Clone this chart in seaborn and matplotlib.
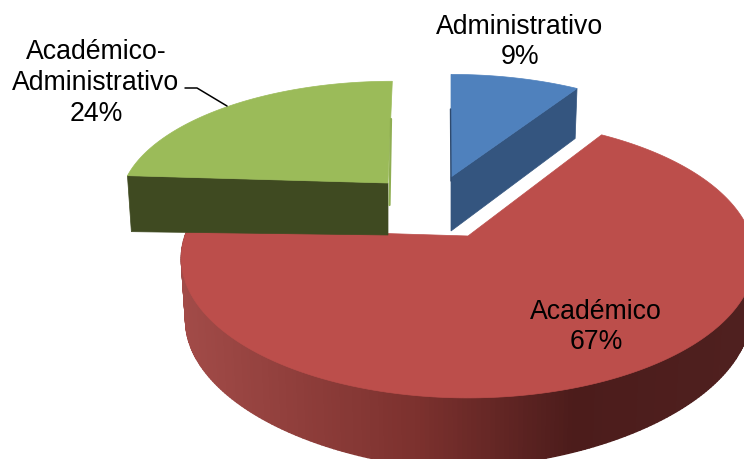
import numpy as np
import matplotlib
matplotlib.use('Agg')
import matplotlib.pyplot as plt
import seaborn as sns
from matplotlib.colors import LinearSegmentedColormap

# Data
labels = ['Administrativo', 'Académico', 'Académico-\nAdministrativo']
values = [9, 67, 24]
top_colors = ['#4F81BD', '#BC4E4B', '#9BBB59']
wall_colors = ['#34557F', '#4F201F', '#3F4A21']

# Where each exploded slice sits, in pixels: centre x, centre y, half width, half height, shear
slice_geom = [(451, 178, 267, 119, 0), (468, 237, 283, 136, 0), (388, 184, 264, 118, 5)]
# depth of the cut wall at the centre and at the rim
wall_depths = [(54, 50), None, (52, 56)]
label_pos = [(520, 42), (596, 327), (96, 83)]
persp = 0.16

sns.set_theme(style='white')
plt.rcParams['font.family'] = ['Liberation Sans', 'DejaVu Sans']
palette = sns.color_palette(top_colors)

fig = plt.figure(figsize=(7.44, 4.6), dpi=100)
ax = fig.add_axes([0, 0, 1, 1])

# let pie work out the slice angles from the values
wedges, _ = ax.pie(values, startangle=90, counterclock=False)
angles = [(w.theta1, w.theta2) for w in wedges]
for w in wedges:
    w.remove()


def project(theta, geom):
    # flat circle -> squashed circle with some perspective
    cx, cy, a, b, shear = geom
    u = np.cos(np.radians(theta))
    v = np.sin(np.radians(theta))
    s = 1 + persp * v
    return cx + (a * u + shear * v) / s, cy - b * v / s


side_cmap = LinearSegmentedColormap.from_list(
    'side', [(0, '#A24B48'), (0.42, '#7C312E'), (0.70, '#4C1C1B'), (1, '#4F201F')])

for i, (t1, t2) in enumerate(angles):
    geom = slice_geom[i]
    thetas = np.linspace(t1, t2, 300)
    xs, ys = project(thetas, geom)
    cx, cy = geom[0], geom[1]

    if labels[i] == 'Académico':
        # front wall made of thin strips for the shading, deepest left of centre
        for j in range(len(thetas) - 1):
            th = np.linspace(thetas[j], thetas[j + 1], 2)
            if np.sin(np.radians(th[0])) > 0.08:
                continue
            px, py = project(th, geom)
            d = np.interp(px, [182, 400, 500, 744], [62, 70, 68, 56])
            qx = cx + (px - cx) * 0.985
            col = side_cmap((px.mean() - 182) / 562)
            ax.fill(np.r_[px, qx[::-1]], np.r_[py, (py + d)[::-1]], color=col, lw=1.0)
    else:
        # only the cut side shows on the two small slices
        k = 0 if labels[i] == 'Administrativo' else -1
        d_in, d_out = wall_depths[i]
        ox = cx + (xs[k] - cx) * 0.985
        ax.fill([cx, xs[k], ox, cx], [cy, ys[k], ys[k] + d_out, cy + d_in],
                color=wall_colors[i], lw=0.5)

    ax.fill(np.r_[cx, xs], np.r_[cy, ys], color=palette[i], lw=0.5)

# thin slivers of the back walls
ax.plot([450.5, 451], [110, 182], color='#2F4A6E', lw=1.0)
ax.plot([391, 389.5], [120, 206], color='#8FAE52', lw=1.6)

# leader line for the green slice
ax.plot([185, 197, 227], [89, 89, 107], color='black', lw=1.1)

for name, val, (x, y) in zip(labels, values, label_pos):
    ax.text(x, y, f'{name}\n{val}%', ha='center', va='center', fontsize=19.2,
            color='black', linespacing=1.23)

ax.set_aspect('auto')
ax.set_xlim(0, 744)
ax.set_ylim(460, 0)
ax.axis('off')

fig.savefig('out.png', dpi=100, facecolor='white')
